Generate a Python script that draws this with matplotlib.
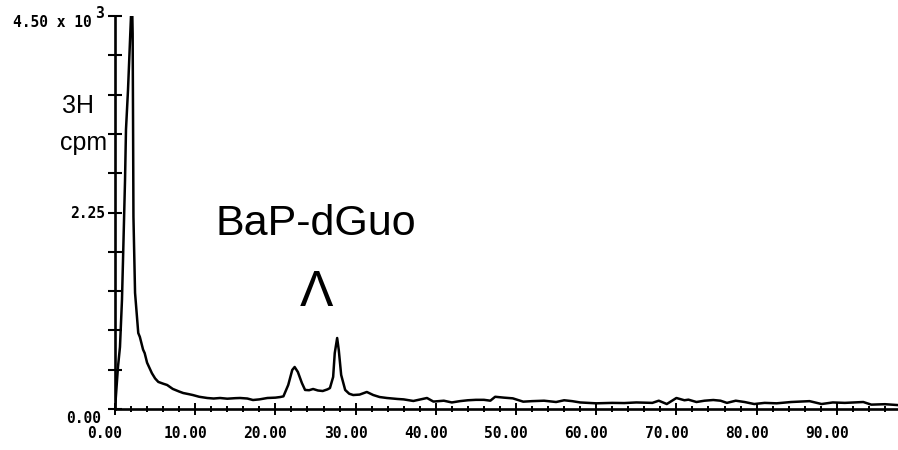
import matplotlib
matplotlib.use("Agg")
import matplotlib.pyplot as plt
import matplotlib.transforms as mtransforms

# retention time (min) and tritium counts of the HPLC trace
time = [0.0, 0.37, 0.62, 0.87, 1.0, 1.25, 1.37, 1.62, 2.0, 2.1, 2.2, 2.25, 2.3, 2.5,
        2.9, 3.1, 3.5, 3.7, 4.0, 4.6, 5.0, 5.4, 6.0, 6.5, 7.2, 8.0, 8.5, 9.2, 9.7,
        10.5, 11.5, 12.3, 13.1, 14.0, 15.0, 15.6, 16.5, 17.2, 18.0, 19.0, 20.0,
        20.6, 21.0, 21.6, 22.1, 22.4, 22.8, 23.3, 23.7, 24.2, 24.7, 25.3, 25.9,
        26.5, 26.8, 27.2, 27.4, 27.7, 27.9, 28.2, 28.7, 29.2, 29.7, 30.5, 31.4,
        32.2, 33.0, 33.9, 35.2, 36.0, 37.2, 38.9, 39.7, 41.0, 42.0, 43.0, 44.0,
        45.0, 46.0, 46.8, 47.4, 48.5, 49.6, 50.9, 52.0, 53.5, 55.0, 56.0, 57.0,
        58.0, 60.0, 62.0, 63.5, 65.0, 67.0, 67.8, 68.8, 70.0, 71.0, 71.5, 72.5,
        73.5, 74.6, 75.5, 76.3, 77.4, 78.5, 79.7, 81.0, 82.5, 84.3, 86.6, 88.1,
        89.5, 91.0, 93.3, 94.3, 96.0, 97.6]
cpm = [0, 480, 710, 1250, 1710, 2620, 3200, 3650, 4510, 4800, 4300, 3300, 2200, 1330,
       870, 825, 680, 640, 530, 410, 350, 310, 290, 275, 230, 200, 183, 170, 160,
       140, 126, 120, 126, 118, 124, 126, 120, 103, 110, 126, 130,
       137, 145, 275, 447, 481, 424, 298, 218, 215, 229, 212, 206,
       225, 240, 367, 640, 813, 676, 390, 218, 175, 160, 165, 195,
       160, 137, 126, 115, 110, 92, 126, 85, 95, 75, 90, 100,
       105, 105, 95, 140, 130, 122, 84, 90, 95, 80, 100, 90,
       75, 65, 70, 68, 75, 70, 95, 57, 126, 100, 107, 80,
       95, 103, 95, 70, 95, 80, 57, 70, 65, 80, 90, 57,
       75, 70, 80, 50, 55, 45]

x_major = [0, 10, 20, 30, 40, 50, 60, 70, 80, 90]
x_labels = ["0.00", "10.00", "20.00", "30.00", "40.00", "50.00",
            "60.00", "70.00", "80.00", "90.00"]
x_minor = list(range(0, 98, 2))
y_ticks = [0, 450, 900, 1350, 1800, 2250, 2700, 3150, 3600, 4050, 4500]
y_labels = ["0.00", "", "", "", "", "2.25", "", "", "", "", "4.50 x 10"]

mono = "DejaVu Sans Mono"
sans = "Liberation Sans"

fig = plt.figure(figsize=(8.98, 4.5), dpi=100)
ax = fig.add_axes([115 / 898, 41 / 450, 783 / 898, 393 / 450])

ax.plot(time, cpm, color="black", lw=1.8, solid_joinstyle="round")

ax.set_xlim(0, 97.63)
ax.set_ylim(0, 4500)

for side in ["top", "right"]:
    ax.spines[side].set_visible(False)
for side in ["left", "bottom"]:
    ax.spines[side].set_linewidth(1.9)

ax.set_xticks(x_major)
ax.set_xticklabels(x_labels, fontfamily=mono, fontweight="bold", fontsize=10.5)
ax.set_xticks(x_minor, minor=True)
ax.set_yticks(y_ticks)
ax.set_yticklabels(y_labels, fontfamily=mono, fontweight="bold", fontsize=10.5)

ax.tick_params(axis="x", which="major", direction="inout", length=9, width=1.4, pad=8)
ax.tick_params(axis="x", which="minor", direction="inout", length=4, width=1.4)
ax.tick_params(axis="y", which="major", direction="inout", length=10, width=1.5, pad=2)

# plotter style labels sit a little off their ticks
for lab in ax.get_xticklabels():
    lab.set_transform(lab.get_transform() +
                      mtransforms.ScaledTranslation(-0.10, 0, fig.dpi_scale_trans))
ylabs = ax.get_yticklabels()
ylabs[0].set_transform(ylabs[0].get_transform() +
                       mtransforms.ScaledTranslation(-0.04, -0.08, fig.dpi_scale_trans))
ylabs[-1].set_transform(ylabs[-1].get_transform() +
                        mtransforms.ScaledTranslation(-0.14, -0.05, fig.dpi_scale_trans))

ax.text(0, 4500, "3", fontfamily=mono, fontweight="bold", fontsize=10.5,
        ha="center", va="center",
        transform=ax.transData + mtransforms.ScaledTranslation(-0.16, 0.03, fig.dpi_scale_trans))

fig.text(62 / 898, (450 - 113) / 450, "3H", fontfamily=sans, fontsize=18, va="baseline")
fig.text(60 / 898, (450 - 150) / 450, "cpm", fontfamily=sans, fontsize=18, va="baseline")

ax.text(12.5, 1990, "BaP-dGuo", fontfamily=sans, fontsize=31, va="baseline")
ax.text(25.1, 1180, "Λ", fontfamily=sans, fontsize=36, ha="center", va="baseline")

fig.savefig("out.png", dpi=100)
